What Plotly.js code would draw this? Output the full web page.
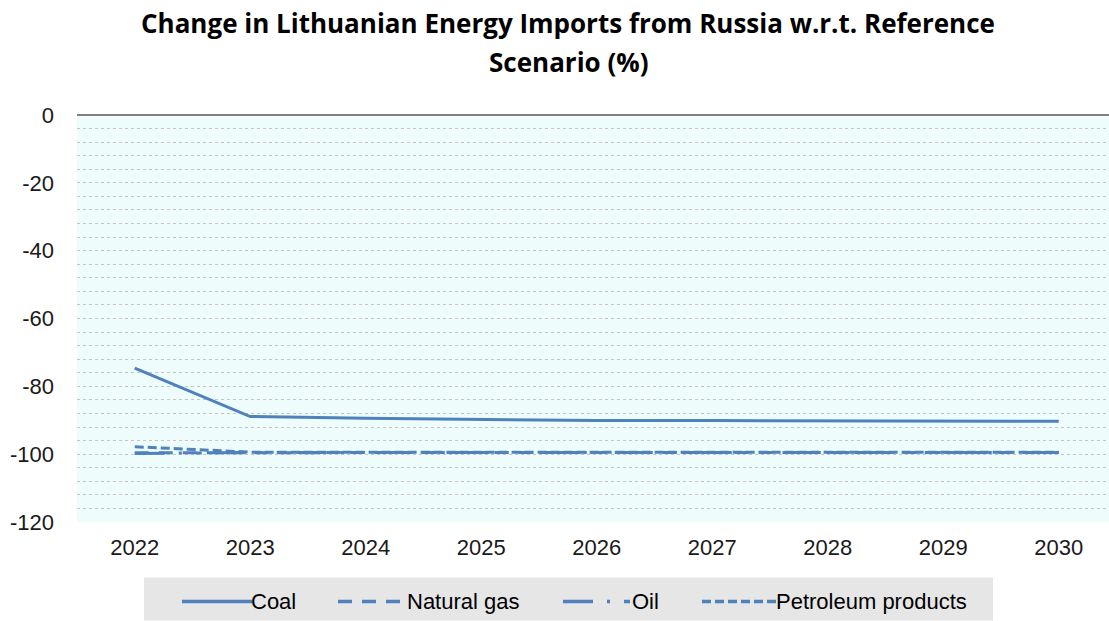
<!DOCTYPE html>
<html>
<head>
<meta charset="utf-8">
<script src="https://cdn.plot.ly/plotly-3.0.1.min.js"></script>
<style>html,body{margin:0;padding:0;background:#fff;}#chart{width:1109px;height:621px;}</style>
</head>
<body>
<div id="chart"></div>
<script>
const years = [2022, 2023, 2024, 2025, 2026, 2027, 2028, 2029, 2030];
const coal = [-74.6, -88.9, -89.4, -89.8, -90.1, -90.1, -90.1, -90.2, -90.3];
const naturalGas = [-99.6, -99.5, -99.5, -99.5, -99.5, -99.5, -99.5, -99.5, -99.5];
const oil = [-99.8, -99.5, -99.5, -99.5, -99.5, -99.5, -99.5, -99.5, -99.5];
const petroleumProducts = [-97.8, -99.4, -99.4, -99.4, -99.4, -99.4, -99.4, -99.4, -99.4];
const seriesNames = ['Coal', 'Natural gas', 'Oil', 'Petroleum products'];
const yTicks = [0, -20, -40, -60, -80, -100, -120];
const titleLines = ['Change in Lithuanian Energy Imports from Russia w.r.t. Reference', 'Scenario (%)'];

const W = 1109, H = 621;
const M = {l: 77, r: 0, t: 114.5, b: H - 522.3};
const plotW = W - M.l - M.r, plotH = H - M.t - M.b;
const px2x = p => (p - M.l) / plotW;
const px2y = p => (H - M.b - p) / plotH;

const color = '#4f81bd';
const dashes = ['solid', '14px,10px', '30px,14px,3px,14px,6px,14px', '9px,4px'];
const series = [coal, naturalGas, oil, petroleumProducts];

const traces = series.map((vals, i) => ({
  x: years, y: vals, name: seriesNames[i], type: 'scatter', mode: 'lines',
  line: {color: color, width: 3, dash: dashes[i]}, showlegend: false
}));

// custom legend placed like the original (long sample lines)
const legendBox = {x0: 144, x1: 993, y0: 578, y1: 621};
const legendSamples = [[182, 252], [338, 408], [563, 633], [702, 777]];
const legendY = 602;
const shapes = [{
  type: 'rect', xref: 'paper', yref: 'paper', layer: 'below',
  x0: px2x(legendBox.x0), x1: px2x(legendBox.x1), y0: px2y(legendBox.y1), y1: px2y(legendBox.y0),
  fillcolor: '#e6e6e6', line: {width: 0}
}];
const annotations = [];
legendSamples.forEach((s, i) => {
  shapes.push({
    type: 'line', xref: 'paper', yref: 'paper',
    x0: px2x(s[0]), x1: px2x(s[1]), y0: px2y(legendY), y1: px2y(legendY),
    line: {color: color, width: 3.5, dash: dashes[i]}
  });
  annotations.push({
    xref: 'paper', yref: 'paper', x: px2x(s[1] - 3), y: px2y(legendY),
    xanchor: 'left', yanchor: 'middle', showarrow: false, text: seriesNames[i],
    font: {family: 'Liberation Sans, Arial, sans-serif', size: 22, color: '#000'}
  });
});
const titleY = [22, 61];
titleLines.forEach((t, i) => {
  annotations.push({
    xref: 'paper', yref: 'paper', x: px2x(568), y: px2y(titleY[i]),
    xanchor: 'center', yanchor: 'middle', showarrow: false, text: '<b>' + t + '</b>',
    font: {family: 'Open Sans, Noto Sans, sans-serif', size: 26, color: '#000'}
  });
});

const layout = {
  width: W, height: H,
  margin: M,
  paper_bgcolor: '#ffffff',
  plot_bgcolor: '#effcfc',
  xaxis: {
    range: [2021.5, 2021.5 + plotW / 115.5], tickvals: years, ticktext: years.map(String),
    showgrid: false, zeroline: false, showline: false, ticks: '',
    tickfont: {family: 'Liberation Sans, Arial, sans-serif', size: 22, color: '#1a1a1a'},
    ticklabelstandoff: 10, fixedrange: true
  },
  yaxis: {
    range: [-120, 0], tickvals: yTicks, ticktext: yTicks.map(v => v === 0 ? '0' : '-' + Math.abs(v)),
    showgrid: true, gridcolor: '#c4c4c4', griddash: 'dot', gridwidth: 1,
    minor: {dtick: 4, showgrid: true, gridcolor: '#c4c4c4', griddash: 'dot', gridwidth: 1},
    zeroline: true, zerolinecolor: '#7f7f7f', zerolinewidth: 2,
    showline: false, ticks: '',
    tickfont: {family: 'Liberation Sans, Arial, sans-serif', size: 22, color: '#1a1a1a'},
    ticklabelstandoff: 22, fixedrange: true
  },
  showlegend: false,
  shapes: shapes,
  annotations: annotations
};

Plotly.newPlot('chart', traces, layout, {displayModeBar: false, staticPlot: true});
</script>
</body>
</html>
